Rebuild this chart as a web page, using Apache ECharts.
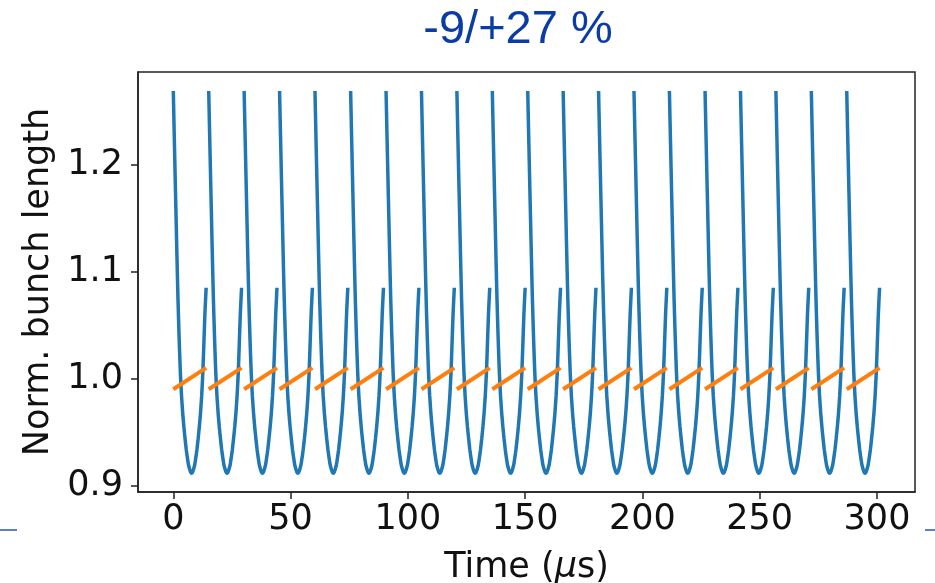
<!DOCTYPE html>
<html>
<head>
<meta charset="utf-8">
<script src="https://cdn.jsdelivr.net/npm/echarts@6/dist/echarts.min.js"></script>
<style>html,body{margin:0;padding:0;background:#fff}#c{width:935px;height:583px}</style>
</head>
<body>
<div id="c"></div>
<script>
// Start time (µs) of each oscillation cycle
const cycleStarts = [0, 15.1, 30.2, 45.3, 60.4, 75.6, 90.7, 105.8, 120.9, 136.0, 151.1, 166.2, 181.3, 196.4, 211.5, 226.7, 241.8, 256.9, 272.0, 287.1];
// Shape of one cycle of the normalized bunch length (time offset within cycle, value)
const cycleOffsets = [0, 0.4, 0.8, 1.2, 1.6, 2.0, 2.5, 3.0, 3.5, 4.0, 4.5, 5.0, 5.5, 6.0, 6.5, 7.0, 7.4, 7.8, 8.2, 8.6, 9.1, 9.6, 10.1, 10.6, 11.1, 11.6, 12.1, 12.6, 13.1, 13.5, 14.0];
const bunchLength = [1.269, 1.228, 1.188, 1.149, 1.110, 1.074, 1.037, 1.006, 0.984, 0.968, 0.955, 0.944, 0.934, 0.926, 0.919, 0.915, 0.9125, 0.9115, 0.9125, 0.915, 0.919, 0.926, 0.934, 0.944, 0.955, 0.968, 0.984, 1.006, 1.037, 1.062, 1.085];
// Orange segment per cycle (start / end)
const avgOffsets = [0, 14.0];
const avgLength = [0.990, 1.010];
const xTicks = [0, 50, 100, 150, 200, 250, 300];
const yTicks = [0.9, 1.0, 1.1, 1.2];

function build(offsets, values) {
  const out = [];
  cycleStarts.forEach((s) => {
    offsets.forEach((o, i) => out.push([s + o, values[i]]));
    out.push([s + offsets[offsets.length - 1] + 0.5, '-']);
  });
  return out;
}

const chart = echarts.init(document.getElementById('c'), null, {renderer: 'canvas'});
const font = 'DejaVu Sans';
chart.setOption({
  animation: false,
  backgroundColor: '#fff',
  grid: {left: 138, right: 20, top: 72, bottom: 91, show: true, borderColor: '#222', borderWidth: 1.5, containLabel: false, outerBoundsMode: 'none'},
  xAxis: {
    type: 'value', min: -15.05, max: 316.2,
    name: '{a|Time (}{b|μ}{a|s)}', nameLocation: 'middle', nameGap: 58,
    nameTextStyle: {rich: {a: {fontFamily: font, fontSize: 35, color: '#111'}, b: {fontFamily: font, fontSize: 35, fontStyle: 'italic', color: '#111'}}},
    axisLine: {show: true, onZero: false, lineStyle: {color: '#222', width: 1.5}},
    axisTick: {show: true, length: 7, lineStyle: {color: '#222', width: 1.5}, customValues: xTicks},
    axisLabel: {fontFamily: font, fontSize: 35, color: '#111', margin: 10, customValues: xTicks},
    splitLine: {show: false}
  },
  yAxis: {
    type: 'value', min: 0.8939, max: 1.2868,
    name: 'Norm. bunch length', nameLocation: 'middle', nameGap: 82,
    nameTextStyle: {fontFamily: font, fontSize: 35, color: '#111'},
    axisLine: {show: true, onZero: false, lineStyle: {color: '#222', width: 1.5}},
    axisTick: {show: true, length: 7, lineStyle: {color: '#222', width: 1.5}, customValues: yTicks},
    axisLabel: {fontFamily: font, fontSize: 35, color: '#111', margin: 15, customValues: yTicks, formatter: v => v.toFixed(1)},
    splitLine: {show: false}
  },
  series: [
    {type: 'line', data: build(cycleOffsets, bunchLength), showSymbol: false, connectNulls: false, smooth: 0.2,
     lineStyle: {color: '#1f77b4', width: 3.5}, itemStyle: {color: '#1f77b4'}},
    {type: 'line', data: build(avgOffsets, avgLength), showSymbol: false, connectNulls: false,
     lineStyle: {color: '#ff7f0e', width: 4}, itemStyle: {color: '#ff7f0e'}}
  ],
  graphic: [
    {type: 'text', style: {text: '-9/+27 %', x: 518, y: 30, fontFamily: 'Liberation Sans', fontSize: 47, fill: '#0a3ca6', align: 'center', verticalAlign: 'middle'}},
    {type: 'line', shape: {x1: 0, y1: 530, x2: 17, y2: 530}, style: {stroke: '#2b4fc4', lineWidth: 1.5}},
    {type: 'line', shape: {x1: 925, y1: 530, x2: 935, y2: 530}, style: {stroke: '#2b4fc4', lineWidth: 1.5}}
  ]
});
</script>
</body>
</html>
